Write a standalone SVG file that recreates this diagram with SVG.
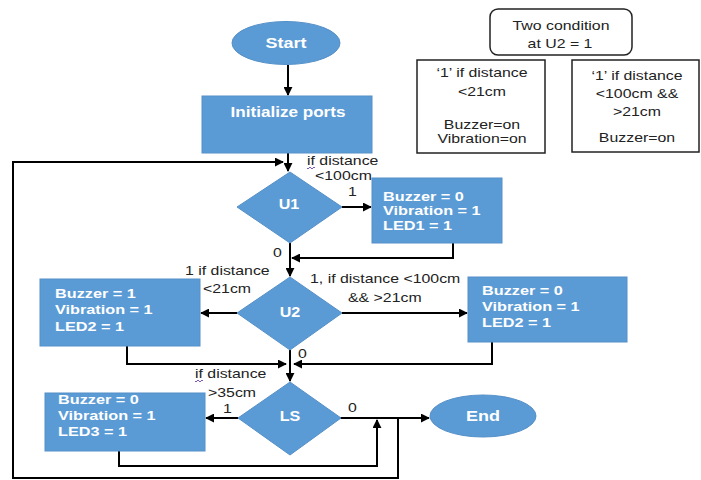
<svg xmlns="http://www.w3.org/2000/svg" width="701" height="480" viewBox="0 0 701 480">
<defs>
<marker id="ah" viewBox="0 0 10 10" refX="9" refY="5" markerWidth="4.5" markerHeight="4.5" orient="auto" markerUnits="strokeWidth">
<path d="M0,0 L10,5 L0,10 z" fill="#000"/>
</marker>
<style>
.n{fill:#5B9BD5;stroke:#5590c8;stroke-width:1}
.w{font-family:"Liberation Sans",Arial,sans-serif;font-weight:bold;fill:#fff;font-size:13px}
.t{font-family:"Liberation Sans",Arial,sans-serif;fill:#222;font-size:13px}
.c{fill:none;stroke:#000;stroke-width:2}
.a{marker-end:url(#ah)}
.lg{fill:#fff;stroke:#222;stroke-width:1.5}
.sq{fill:none;stroke:#7a5cc0;stroke-width:1}
</style>
</defs>
<rect width="701" height="480" fill="#fff"/>

<g id="connectors">
<path class="c a" d="M288,65 V95"/>
<path class="c a" d="M288,153 V171"/>
<path class="c a" d="M398,418 V478 H13 V162 H283"/>
<path class="c a" d="M342,207 H371"/>
<path class="c a" d="M453,243 V258 H292"/>
<path class="c a" d="M290,243 V276"/>
<path class="c a" d="M237,313 H201"/>
<path class="c a" d="M342,313 H467"/>
<path class="c a" d="M127,346 V364 H286"/>
<path class="c a" d="M492,342 V364 H294"/>
<path class="c a" d="M290,350 V381"/>
<path class="c a" d="M238,418 H206"/>
<path class="c a" d="M119,451 V466 H377 V420"/>
<path class="c a" d="M340,418 H429"/>
</g>

<g id="start">
<ellipse class="n" cx="286" cy="43" rx="54" ry="21.5"/>
<text class="w" style="font-size:15px" text-anchor="middle" transform="translate(286,47.5) scale(1.2,1)">Start</text>
</g>

<g id="init">
<rect class="n" x="202" y="96" width="170" height="57"/>
<text class="w" style="font-size:15px" text-anchor="middle" transform="translate(288,117) scale(1.14,1)">Initialize ports</text>
</g>

<g id="u1">
<polygon class="n" points="290,172 342,207 290,243 237,207"/>
<text class="w" style="font-size:14px" text-anchor="middle" transform="translate(289,209) scale(1.15,1)">U1</text>
</g>

<g id="box1">
<rect class="n" x="372" y="178" width="130" height="65"/>
<text class="w" transform="translate(383,200.5) scale(1.25,1)"><tspan x="0">Buzzer = 0</tspan><tspan x="0" dy="15">Vibration = 1</tspan><tspan x="0" dy="15">LED1 = 1</tspan></text>
</g>

<g id="u2">
<polygon class="n" points="290,277 342,313 290,350 237,313"/>
<text class="w" style="font-size:14px" text-anchor="middle" transform="translate(290,317) scale(1.15,1)">U2</text>
</g>

<g id="box2l">
<rect class="n" x="40" y="279" width="160" height="67"/>
<text class="w" transform="translate(55,298) scale(1.25,1)"><tspan x="0">Buzzer = 1</tspan><tspan x="0" dy="16.5">Vibration = 1</tspan><tspan x="0" dy="16.5">LED2 = 1</tspan></text>
</g>

<g id="box2r">
<rect class="n" x="468" y="277" width="159" height="65"/>
<text class="w" transform="translate(482,295) scale(1.25,1)"><tspan x="0">Buzzer = 0</tspan><tspan x="0" dy="16">Vibration = 1</tspan><tspan x="0" dy="16">LED2 = 1</tspan></text>
</g>

<g id="ls">
<polygon class="n" points="290,382 341,418 290,455 238,418"/>
<text class="w" style="font-size:14px" text-anchor="middle" transform="translate(290,421) scale(1.15,1)">LS</text>
</g>

<g id="box3">
<rect class="n" x="45" y="393" width="160" height="58"/>
<text class="w" transform="translate(58,404) scale(1.25,1)"><tspan x="0">Buzzer = 0</tspan><tspan x="0" dy="16">Vibration = 1</tspan><tspan x="0" dy="16">LED3 = 1</tspan></text>
</g>

<g id="end">
<ellipse class="n" cx="483" cy="416" rx="53" ry="21"/>
<text class="w" style="font-size:15px" text-anchor="middle" transform="translate(483,421) scale(1.2,1)">End</text>
</g>

<g id="labels">
<text class="t" transform="translate(307,165) scale(1.22,1)">if distance</text>
<path class="sq" d="M307,168 q1,2 2,0 t2,0 t2,0 t2,0"/>
<text class="t" transform="translate(315,180) scale(1.22,1)">&lt;100cm</text>
<text class="t" transform="translate(348,196) scale(1.22,1)">1</text>
<text class="t" transform="translate(273,257) scale(1.22,1)">0</text>
<text class="t" transform="translate(185,275) scale(1.22,1)">1 if distance</text>
<text class="t" transform="translate(203,293) scale(1.22,1)">&lt;21cm</text>
<text class="t" transform="translate(310,283) scale(1.22,1)">1, if distance &lt;100cm</text>
<text class="t" transform="translate(348,302) scale(1.22,1)">&amp;&amp; &gt;21cm</text>
<text class="t" transform="translate(298,358) scale(1.22,1)">0</text>
<text class="t" transform="translate(195,378) scale(1.22,1)">if distance</text>
<path class="sq" d="M195,381 q1,2 2,0 t2,0 t2,0 t2,0"/>
<text class="t" transform="translate(208,397) scale(1.22,1)">&gt;35cm</text>
<text class="t" transform="translate(223,413) scale(1.22,1)">1</text>
<text class="t" transform="translate(348,412) scale(1.22,1)">0</text>
</g>

<g id="legend-title">
<rect class="lg" x="490" y="9" width="142" height="46" rx="8"/>
<text class="t" text-anchor="middle" transform="translate(561,30) scale(1.22,1)">Two condition</text>
<text class="t" text-anchor="middle" transform="translate(560,48) scale(1.22,1)">at U2 = 1</text>
</g>

<g id="legend-left">
<rect class="lg" x="417" y="60" width="128" height="93"/>
<text class="t" text-anchor="middle" transform="translate(482,77) scale(1.22,1)">‘1’ if distance</text>
<text class="t" text-anchor="middle" transform="translate(482,96) scale(1.22,1)">&lt;21cm</text>
<text class="t" text-anchor="middle" transform="translate(482,129) scale(1.22,1)">Buzzer=on</text>
<text class="t" text-anchor="middle" transform="translate(482,143) scale(1.22,1)">Vibration=on</text>
</g>

<g id="legend-right">
<rect class="lg" x="572" y="60" width="127" height="92"/>
<text class="t" text-anchor="middle" transform="translate(637,80) scale(1.22,1)">‘1’ if distance</text>
<text class="t" text-anchor="middle" transform="translate(637,98) scale(1.22,1)">&lt;100cm &amp;&amp;</text>
<text class="t" text-anchor="middle" transform="translate(637,116) scale(1.22,1)">&gt;21cm</text>
<text class="t" text-anchor="middle" transform="translate(637,142) scale(1.22,1)">Buzzer=on</text>
</g>
</svg>
